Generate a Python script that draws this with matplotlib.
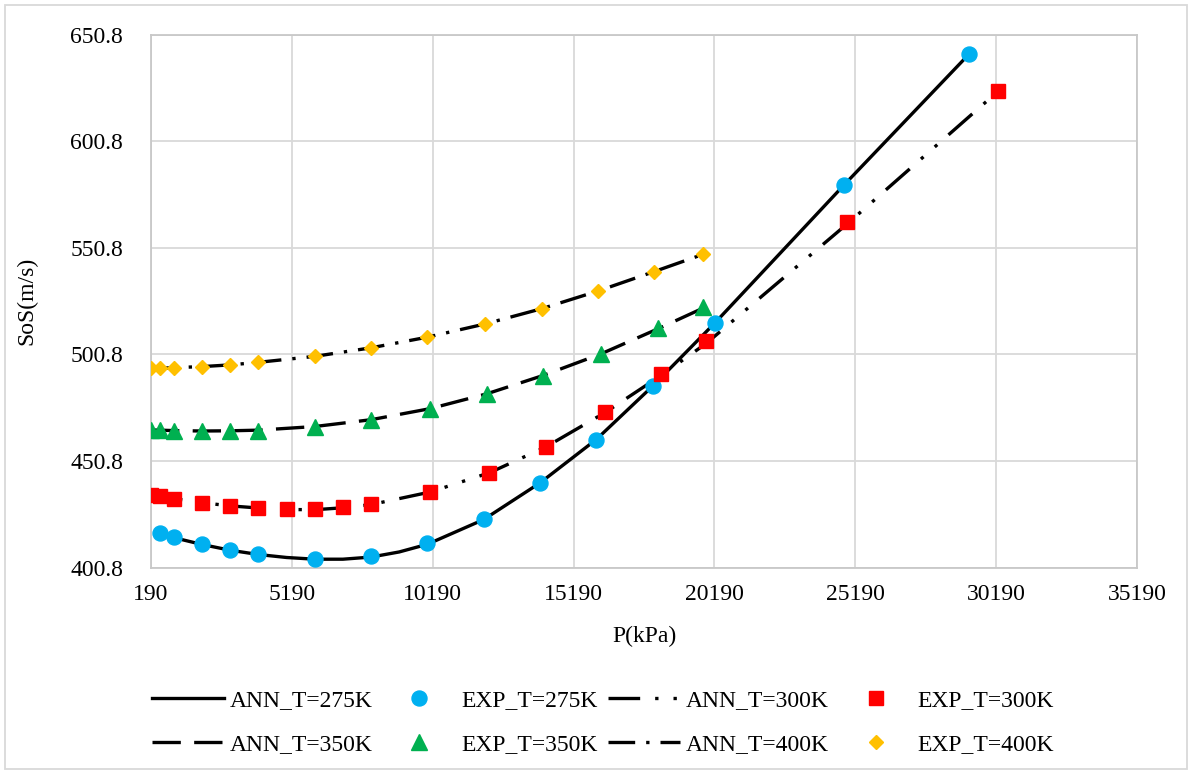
import matplotlib
matplotlib.use("Agg")
from matplotlib import pyplot as plt
from matplotlib.patches import Rectangle

# pressures (kPa) and speed of sound (m/s)
p_exp_275 = [500, 1000, 2000, 3000, 4000, 6000, 8000, 10000, 12000, 14000, 16000, 18000, 20200, 24800, 29240]
sos_exp_275 = [416.9, 415.0, 411.9, 409.1, 407.1, 404.9, 406.4, 412.2, 423.6, 440.5, 460.9, 486.0, 515.5, 580.4, 641.8]

p_exp_300 = [190, 500, 1000, 2000, 3000, 4000, 5000, 6000, 7000, 8000, 10100, 12200, 14200, 16300, 18300, 19900, 24900, 30240]
sos_exp_300 = [434.8, 434.3, 433.2, 431.2, 429.8, 428.8, 428.2, 428.2, 429.2, 430.6, 436.3, 445.4, 457.3, 473.7, 491.5, 507.3, 562.7, 624.5]

p_exp_350 = [190, 500, 1000, 2000, 3000, 4000, 6000, 8000, 10100, 12100, 14100, 16150, 18200, 19800]
sos_exp_350 = [465.5, 465.5, 465.1, 464.8, 464.8, 465.1, 467.0, 470.1, 475.3, 482.3, 490.8, 501.0, 513.0, 523.1]

p_exp_400 = [190, 500, 1000, 2000, 3000, 4000, 6000, 8000, 10000, 12050, 14070, 16070, 18040, 19800]
sos_exp_400 = [494.3, 494.3, 494.6, 495.1, 495.9, 497.1, 499.9, 503.9, 508.9, 515.1, 522.3, 530.6, 539.6, 548.0]

# ANN predictions (lines)
p_ann_275 = [500, 1000, 2000, 3000, 4000, 5000, 6000, 7000, 8000, 9000, 10000, 12000, 14000, 16000, 18000, 20200, 24800, 29240]
sos_ann_275 = [416.9, 414.9, 411.7, 409.0, 407.0, 405.6, 404.8, 404.8, 405.8, 408.2, 411.8, 423.4, 440.6, 461.0, 486.0, 515.5, 580.4, 641.8]

p_ann_300 = [190, 500, 1000, 2000, 3000, 4000, 5000, 6000, 7000, 8000, 10100, 12200, 14200, 16300, 18300, 19900, 24900, 30240]
sos_ann_300 = [434.8, 434.2, 433.2, 431.3, 429.8, 428.8, 428.1, 428.0, 428.9, 430.4, 436.3, 445.3, 457.4, 473.5, 491.0, 506.0, 562.0, 624.0]

p_ann_350 = [190, 500, 1000, 2000, 3000, 4000, 6000, 8000, 10100, 12100, 14100, 16150, 18200, 19800]
sos_ann_350 = [465.4, 465.3, 465.1, 464.9, 465.0, 465.3, 467.0, 470.2, 475.4, 482.3, 490.9, 501.0, 512.9, 522.6]

p_ann_400 = [190, 500, 1000, 2000, 3000, 4000, 6000, 8000, 10000, 12050, 14070, 16070, 18040, 19800]
sos_ann_400 = [494.3, 494.3, 494.6, 495.1, 495.9, 497.1, 499.9, 503.9, 508.9, 515.1, 522.3, 530.6, 539.6, 547.8]

x_ticks = [190, 5190, 10190, 15190, 20190, 25190, 30190, 35190]
y_ticks = [400.8, 450.8, 500.8, 550.8, 600.8, 650.8]

plt.rcParams['font.family'] = ['Liberation Serif', 'DejaVu Serif']
plt.rcParams['font.size'] = 17

fig = plt.figure(figsize=(11.92, 7.72), dpi=100)
ax = fig.add_axes([0.1267, 0.2646, 0.8272, 0.6907])

lw = 2.4
h_ann_275, = ax.plot(p_ann_275, sos_ann_275, color='black', lw=lw, ls='-', label='ANN_T=275K', zorder=3)
h_ann_300, = ax.plot(p_ann_300, sos_ann_300, color='black', lw=lw, ls=(0, (9.5, 4.5, 1, 4.5, 1, 4.5)), label='ANN_T=300K', zorder=3)
h_ann_350, = ax.plot(p_ann_350, sos_ann_350, color='black', lw=lw, ls=(0, (8.5, 4)), label='ANN_T=350K', zorder=3)
h_ann_400, = ax.plot(p_ann_400, sos_ann_400, color='black', lw=lw, ls=(0, (8, 3.3, 1, 3.3)), label='ANN_T=400K', zorder=3)

h_exp_275, = ax.plot(p_exp_275, sos_exp_275, ls='none', marker='o', ms=10.8, color='#00B0F0', label='EXP_T=275K', zorder=4)
h_exp_300, = ax.plot(p_exp_300, sos_exp_300, ls='none', marker='s', ms=10.5, color='#FF0000', label='EXP_T=300K', zorder=4)
h_exp_350, = ax.plot(p_exp_350, sos_exp_350, ls='none', marker='^', ms=11, color='#00B050', label='EXP_T=350K', zorder=4)
h_exp_400, = ax.plot(p_exp_400, sos_exp_400, ls='none', marker='D', ms=7.5, color='#FFC000', label='EXP_T=400K', zorder=4)

ax.set_xlim(190, 35190)
ax.set_ylim(400.8, 650.8)
ax.set_xticks(x_ticks)
ax.set_xticklabels([str(v) for v in x_ticks])
ax.set_yticks(y_ticks)
ax.set_yticklabels([f"{v:.1f}" for v in y_ticks])
ax.tick_params(length=0, pad=12)
ax.tick_params(axis='y', pad=20)
ax.grid(True, color='#d9d9d9', lw=1.3)
ax.set_axisbelow(True)
for s in ax.spines.values():
    s.set_color('#c8c8c8')
    s.set_linewidth(1.3)

ax.set_xlabel('P(kPa)', labelpad=15)
ax.set_ylabel('SoS(m/s)', labelpad=24)

# legend fills column-wise, so interleave to get the row order of the reference
handles = [h_ann_275, h_ann_350, h_exp_275, h_exp_350, h_ann_300, h_ann_400, h_exp_300, h_exp_400]
fig.legend(handles=handles, labels=[h.get_label() for h in handles], ncol=4, loc='center',
           bbox_to_anchor=(0.506, 0.064), frameon=False, handlelength=3.05, handletextpad=0.25,
           columnspacing=0.45, labelspacing=0.95, fontsize=17)

fig.patches.append(Rectangle((0.004, 0.004), 0.992, 0.99, transform=fig.transFigure,
                             fill=False, edgecolor='#d9d9d9', lw=1.3))

fig.savefig('out.png', dpi=100)
